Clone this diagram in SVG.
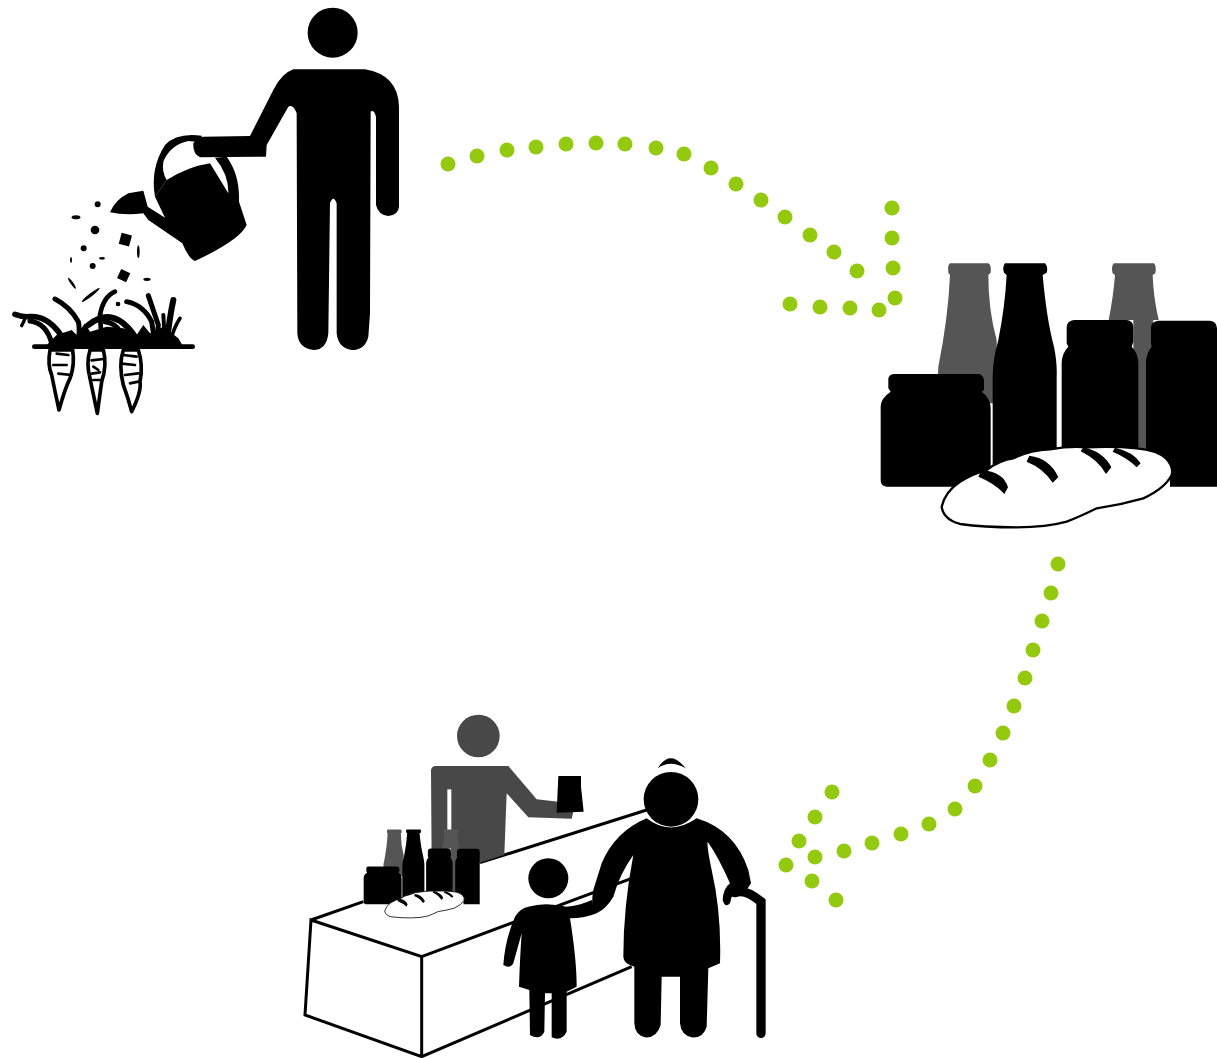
<svg xmlns="http://www.w3.org/2000/svg" xmlns:xlink="http://www.w3.org/1999/xlink" width="1217" height="1058" viewBox="0 0 1217 1058">
<style>
.k{fill:#000}
.g{fill:#555}
.s{fill:#484848}
.d{fill:#93c90e}
.c{fill:#fff;stroke:#000;stroke-width:11;stroke-linejoin:round}
.i{fill:none;stroke:#000;stroke-width:8;stroke-linecap:round;stroke-linejoin:round}
.b{fill:none;stroke:#000;stroke-width:15;stroke-linecap:round}
</style>
<defs>
<g id="goods">
<path class="g" d="M240,40H355Q365,45 362,68L355,75Q355,180 380,270V460H200L205,350Q235,200 240,75L235,68Q232,45 240,40Z"/>
<path class="g" d="M732,40H852Q860,50 856,70L848,75Q850,140 866,210H716Q730,140 735,75L728,70Q722,50 732,40Z"/>
<rect class="g" x="790" y="200" width="60" height="400"/>
<path class="k" d="M405,40H525Q535,50 530,68L518,75Q530,210 552,290Q562,340 560,380V700H368V380Q368,330 385,270Q405,170 410,75L402,68Q396,50 405,40Z"/>
<path class="k" d="M55,385Q58,372 75,372H325Q342,374 342,395V420L335,425Q362,445 362,475V690Q360,710 340,710H50Q32,708 32,690V470Q32,445 62,425L55,415Z"/>
<path class="k" d="M590,230Q592,212 612,210H770Q790,212 790,232V275L785,290Q805,310 805,340V650H575V340Q575,310 595,290L590,280Z"/>
<path class="k" d="M843,232Q845,214 865,212H1020Q1040,214 1041,235V710H900V650H828V340Q828,310 845,290L843,280Z"/>
<path d="M215,770Q225,725 270,695Q310,670 350,660Q390,630 430,625Q480,600 540,598Q600,588 650,592Q730,588 800,595Q860,600 888,625Q912,650 905,675Q885,715 820,745Q750,765 680,775Q630,800 590,815Q530,832 440,832Q340,832 270,822Q220,808 215,770Z" fill="#fff" stroke="#000" stroke-width="7"/>
<path class="k" d="M335,660Q400,665 414,712L403,732Q375,700 325,680Z"/>
<path class="k" d="M478,617Q540,625 565,682L548,698Q520,655 470,635Z"/>
<path class="k" d="M640,592Q700,605 724,652L708,672Q685,630 632,604Z"/>
<path class="k" d="M735,593Q790,605 812,640L800,652Q775,625 728,605Z"/>
</g>
</defs>
<g id="farmer" transform="scale(.33333)">
<circle class="k" cx="998" cy="98" r="75"/>
<path class="k" d="M880,208L1095,208Q1195,225 1197,320L1197,620Q1195,645 1165,648Q1135,645 1128,615L1128,350Q1122,328 1112,335L1110,940L1105,1010Q1095,1050 1055,1050Q1015,1045 1010,1000L1010,610Q1000,582 990,610L985,1000Q980,1050 940,1050Q895,1045 892,1000L890,340Q880,312 865,320L800,435L798,470L600,472Q578,462 580,430Q590,410 610,410L750,408L820,270Q845,220 880,208Z"/>
</g>
<g id="watering-can" transform="translate(105,125) scale(.33333)">
<path class="k" d="M185,165Q250,125 315,115L370,205Q372,150 330,98L365,95Q405,150 402,230L425,300Q405,345 270,408Q250,400 232,355L130,285L115,265Q60,272 15,262Q30,225 70,205L115,197L128,245L180,278L150,215Z"/>
<path class="k" d="M150,215Q135,130 180,60Q215,22 290,32V52L250,48Q195,60 175,110Q170,140 185,165Z"/>
</g>
<g id="seeds" transform="scale(.33333)">
<circle class="k" cx="293" cy="613" r="9"/>
<ellipse class="k" cx="228" cy="652" rx="13" ry="6"/>
<circle class="k" cx="285" cy="690" r="13"/>
<rect class="k" x="360" y="702" width="32" height="34" transform="rotate(15 376 719)"/>
<circle class="k" cx="251" cy="745" r="9"/>
<ellipse class="k" cx="415" cy="755" rx="4" ry="19"/>
<ellipse class="k" cx="306" cy="775" rx="9" ry="4"/>
<ellipse class="k" cx="213" cy="780" rx="3" ry="9"/>
<circle class="k" cx="278" cy="798" r="9"/>
<rect class="k" x="356" y="812" width="30" height="30" transform="rotate(25 371 827)"/>
<ellipse class="k" cx="441" cy="838" rx="11" ry="5"/>
<ellipse class="k" cx="216" cy="850" rx="4" ry="20" transform="rotate(-35 216 850)"/>
<ellipse class="k" cx="272" cy="885" rx="5" ry="34" transform="rotate(52 272 885)"/>
<circle class="k" cx="354" cy="912" r="7"/>
</g>
<g id="plants" transform="translate(10,285) scale(.33333)">
<path class="b" style="stroke-width:17" d="M15,88Q40,97 60,95Q120,90 165,170"/>
<path class="b" style="stroke-width:10" d="M45,100Q42,110 35,122"/>
<path class="b" d="M60,108Q110,115 125,175"/>
<path class="b" d="M135,42Q180,65 205,110Q210,130 205,175"/>
<path class="b" style="stroke-width:14" d="M315,20Q280,35 270,90Q270,130 280,170"/>
<path class="b" style="stroke-width:18" d="M235,120Q290,75 340,115Q370,140 385,175"/>
<path class="b" d="M285,110Q330,115 345,175"/>
<path class="b" d="M350,50Q400,60 425,110L435,175"/>
<path class="b" d="M415,32L445,120L440,175"/>
<path class="b" style="stroke-width:18" d="M490,45Q480,90 470,175"/>
<path class="b" style="stroke-width:11" d="M510,100Q490,130 480,175"/>
<path class="b" style="stroke-width:12" d="M460,90L465,175"/>
<path class="k" d="M105,185L140,150L185,135L200,150L225,115L240,140L290,125L340,130L380,150L400,120L420,145L460,125L505,160L520,185Z"/>
<rect class="k" x="66" y="178" width="489" height="14" rx="7"/>
<path class="c" d="M120,195Q112,240 125,270Q135,320 147,375Q165,310 180,280Q195,240 188,195Z"/>
<path class="c" d="M240,195Q228,235 240,280L262,385L275,290Q292,240 280,195Z"/>
<path class="c" d="M340,195Q325,240 340,300Q355,340 365,380Q395,320 390,290Q400,240 385,195Z"/>
<path class="i" d="M140,206L175,210M130,240H170M145,266L185,270"/>
<path class="i" d="M245,226L280,222M250,245L265,255M245,266L270,262M250,285H270"/>
<path class="i" d="M340,210L380,215M335,236L375,240M345,270L385,265M360,295L385,290"/>
</g>
<g id="goods-large" transform="translate(870,250) scale(.33333)">
<use href="#goods" xlink:href="#goods"/>
</g>
<g id="market" transform="translate(295,700) scale(.33333)">
<path d="M48,660L205,605M555,488L1055,330M48,660L380,770L380,1070L30,945ZM380,770L1010,535M380,1070L1010,800" fill="none" stroke="#000" stroke-width="9"/>
<circle class="s" cx="550" cy="108" r="64"/>
<path class="s" d="M420,198H640L725,298L790,305L835,335L830,356L700,352L635,280L628,464L555,488H410L408,210Q410,200 420,198Z"/>
<rect x="457" y="268" width="12" height="190" fill="#fff"/>
<path class="k" d="M790,228H858V260L866,335L785,338Z"/>
<g transform="translate(195,375) scale(.345 .335)"><use href="#goods" xlink:href="#goods"/></g>
</g>
<g id="child" transform="translate(295,700) scale(.33333)">
<circle class="k" cx="760" cy="535" r="60"/>
<path class="k" d="M700,620Q750,605 815,620Q860,615 890,600L905,640Q870,655 825,655Q845,780 845,860L815,875L815,995Q800,1025 770,1012L770,880L750,880L748,995Q735,1022 705,1005L703,870L672,860Q675,770 680,700L655,790Q645,808 625,795Q630,720 660,650Q675,625 700,620Z"/>
</g>
<g id="grandmother" transform="translate(295,700) scale(.33333)">
<path class="k" d="M1088,205Q1125,145 1172,205Q1125,178 1088,205Z"/>
<circle class="k" cx="1128" cy="298" r="82"/>
<path class="k" d="M1055,355Q1125,410 1205,355Q1320,390 1360,510L1368,550L1345,585L1310,590L1305,610Q1290,625 1283,600Q1285,565 1305,550Q1270,470 1238,425Q1235,440 1250,510Q1280,640 1275,790L1240,805L1235,980Q1225,1015 1190,1012Q1158,1005 1155,970L1155,830L1100,830L1097,975Q1085,1015 1050,1012Q1020,1005 1018,970L1018,800Q985,790 985,770Q985,620 1015,465Q975,520 955,590Q935,625 905,640Q885,625 895,570L920,490Q960,395 1055,355Z"/>
<path d="M1320,578Q1350,565 1398,605V1000" fill="none" stroke="#000" stroke-width="28" stroke-linecap="round"/>
</g>
<g id="connectors">
<circle class="d" cx="448" cy="164" r="7.5"/><circle class="d" cx="477" cy="156" r="7.5"/><circle class="d" cx="507" cy="150" r="7.5"/><circle class="d" cx="536" cy="147" r="7.5"/><circle class="d" cx="566" cy="144" r="7.5"/><circle class="d" cx="596" cy="143" r="7.5"/><circle class="d" cx="625" cy="144" r="7.5"/><circle class="d" cx="656" cy="148" r="7.5"/><circle class="d" cx="684" cy="154" r="7.5"/><circle class="d" cx="711" cy="168" r="7.5"/><circle class="d" cx="736" cy="184" r="7.5"/><circle class="d" cx="761" cy="200" r="7.5"/><circle class="d" cx="785" cy="217" r="7.5"/><circle class="d" cx="810" cy="235" r="7.5"/><circle class="d" cx="834" cy="252" r="7.5"/><circle class="d" cx="857" cy="271" r="7.5"/>
<circle class="d" cx="892" cy="208" r="7.5"/><circle class="d" cx="892" cy="238" r="7.5"/><circle class="d" cx="893" cy="268" r="7.5"/><circle class="d" cx="895" cy="298" r="7.5"/><circle class="d" cx="879" cy="310" r="7.5"/><circle class="d" cx="850" cy="308" r="7.5"/><circle class="d" cx="820" cy="307" r="7.5"/><circle class="d" cx="790" cy="304" r="7.5"/>
<circle class="d" cx="1058" cy="564" r="7.5"/><circle class="d" cx="1051" cy="593" r="7.5"/><circle class="d" cx="1042" cy="621" r="7.5"/><circle class="d" cx="1033" cy="650" r="7.5"/><circle class="d" cx="1025" cy="678" r="7.5"/><circle class="d" cx="1014" cy="706" r="7.5"/><circle class="d" cx="1003" cy="733" r="7.5"/><circle class="d" cx="990" cy="760" r="7.5"/><circle class="d" cx="975" cy="786" r="7.5"/><circle class="d" cx="955" cy="809" r="7.5"/><circle class="d" cx="929" cy="824" r="7.5"/><circle class="d" cx="901" cy="834" r="7.5"/><circle class="d" cx="872" cy="843" r="7.5"/><circle class="d" cx="844" cy="851" r="7.5"/><circle class="d" cx="815" cy="857" r="7.5"/><circle class="d" cx="786" cy="865" r="7.5"/>
<circle class="d" cx="832" cy="792" r="7.5"/><circle class="d" cx="815" cy="817" r="7.5"/><circle class="d" cx="799" cy="841" r="7.5"/><circle class="d" cx="812" cy="881" r="7.5"/><circle class="d" cx="836" cy="900" r="7.5"/>
</g>
</svg>
